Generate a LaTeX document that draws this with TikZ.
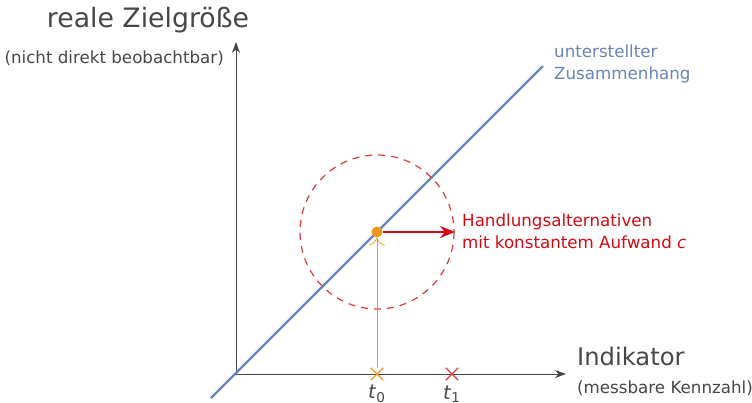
\documentclass[tikz,border=0pt]{standalone}
\usepackage{fontspec}
\setmainfont{DejaVu Sans}
\usetikzlibrary{arrows.meta,shapes.misc}
\definecolor{axisgray}{RGB}{70,70,70}
\definecolor{linkblue}{RGB}{104,132,180}
\definecolor{dotorange}{RGB}{240,150,30}
\definecolor{altred}{RGB}{210,10,20}
\definecolor{circred}{RGB}{222,60,60}
\begin{document}
\begin{tikzpicture}[x=0.02cm, y=-0.02cm, font=\fontsize{9.5}{12.5}\selectfont]
  \useasboundingbox (0,0) rectangle (752,403);
  \tikzset{crossmark/.style={draw, cross out, minimum size=0.22cm, inner sep=0pt, thick}}
  % axes
  \coordinate (O) at (236,374);
  \coordinate (ytip) at (236,42);
  \coordinate (xtip) at (566,374);
  \draw[axisgray, -{Stealth[length=2.2mm, width=1.6mm]}] (O) -- (ytip);
  \draw[axisgray, -{Stealth[length=2.2mm, width=1.6mm]}] (O) -- (xtip);
  \node[axisgray, font=\fontsize{15.2}{18}\selectfont] (ylab) at (148,20) {reale Zielgröße};
  \node[axisgray, anchor=east] (ysub) at (230,58) {(nicht direkt beobachtbar)};
  \node[axisgray, anchor=west, font=\fontsize{13.8}{16}\selectfont] (xlab) at (571,356) {Indikator};
  \node[axisgray, anchor=west] (xsub) at (571,388) {(messbare Kennzahl)};
  % assumed relation
  \coordinate (A) at (211,398);
  \coordinate (B) at (543,66);
  \draw[linkblue, line width=1.3pt] (A) -- (B);
  \node[linkblue, anchor=west, align=left] (rel) at (548,64) {unterstellter\\Zusammenhang};
  % circle of alternatives
  \draw[circred, dash pattern=on 4pt off 3.4pt, line width=0.7pt] (377,232) circle (77);
  \node[crossmark, dotorange] (t0) at (377,374) {};
  \node[crossmark, circred] (t1) at (452,374) {};
  \node[axisgray, font=\fontsize{11}{13}\selectfont] (t0lab) at (377,394) {\textit{t}\textsubscript{0}};
  \node[axisgray, font=\fontsize{11}{13}\selectfont] (t1lab) at (452,394) {\textit{t}\textsubscript{1}};
  \node[circle, fill=dotorange, inner sep=0pt, minimum size=0.22cm] (dot) at (377,232) {};
  \coordinate (alt) at (455,232);
  \draw[dotorange, -{To[length=1.5mm]}] (t0) -- (dot);
  \draw[altred, line width=1.2pt, -{Stealth[length=3mm, width=2.4mm]}] (dot) -- (alt);
  \node[altred, anchor=west, align=left] (altlab) at (456,231) {Handlungsalternativen\\mit konstantem Aufwand \textit{c}};
\end{tikzpicture}
\end{document}
